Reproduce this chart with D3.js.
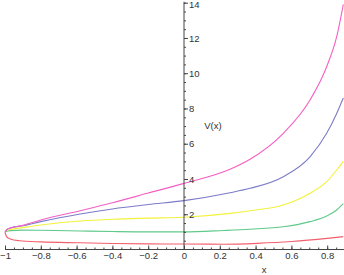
<!DOCTYPE html>
<html>
<head>
<meta charset="utf-8">
<script src="https://cdn.jsdelivr.net/npm/d3@7"></script>
<style>
  body { margin: 0; background: #fff; }
  svg { display: block; font-family: "Liberation Sans", Arial, sans-serif; }
</style>
</head>
<body>
<script>
// x positions of each read-off point, and V(x) per curve
const xsMagenta = [-1, -0.99, -0.97, -0.9, -0.8, -0.58, -0.4, -0.2, 0, 0.257, 0.369, 0.555, 0.704, 0.797, 0.853, 0.89];
const vMagenta  = [0.98, 1.12, 1.22, 1.37, 1.67, 2.2, 2.65, 3.2, 3.75, 4.55, 5.12, 6.59, 8.48, 10.37, 12.07, 13.9];

const xsBlue = [-1, -0.99, -0.97, -0.9, -0.8, -0.58, -0.4, -0.2, 0, 0.257, 0.369, 0.555, 0.704, 0.797, 0.853, 0.89];
const vBlue  = [0.98, 1.12, 1.22, 1.35, 1.58, 2.01, 2.3, 2.55, 2.77, 3.22, 3.47, 4.13, 5.26, 6.59, 7.72, 8.6];

const xsYellow = [-1, -0.99, -0.97, -0.9, -0.8, -0.58, -0.4, -0.2, 0, 0.257, 0.369, 0.555, 0.704, 0.797, 0.853, 0.89];
const vYellow  = [0.98, 1.07, 1.13, 1.24, 1.39, 1.62, 1.72, 1.78, 1.83, 2.05, 2.2, 2.52, 3.19, 3.85, 4.51, 5.0];

const xsGreen = [-1, -0.99, -0.97, -0.9, -0.8, -0.58, -0.4, -0.2, 0, 0.223, 0.369, 0.555, 0.704, 0.797, 0.853, 0.89];
const vGreen  = [0.98, 1.03, 1.07, 1.1, 1.09, 1.05, 1.02, 1.0, 1.0, 1.08, 1.15, 1.29, 1.58, 1.9, 2.24, 2.6];

const xsRed = [-1, -0.995, -0.99, -0.97, -0.92, -0.8, -0.58, -0.4, -0.2, 0, 0.22, 0.41, 0.6, 0.8, 0.89];
const vRed  = [0.98, 0.82, 0.72, 0.6, 0.5, 0.43, 0.38, 0.34, 0.32, 0.31, 0.3, 0.35, 0.45, 0.63, 0.73];

const xMajor = [-1, -0.8, -0.6, -0.4, -0.2, 0, 0.2, 0.4, 0.6, 0.8];
const yMajor = [2, 4, 6, 8, 10, 12, 14];

const curves = [
  {xs: xsRed, v: vRed, color: "#f2606e"},
  {xs: xsGreen, v: vGreen, color: "#5fc98a"},
  {xs: xsYellow, v: vYellow, color: "#f2f23c"},
  {xs: xsBlue, v: vBlue, color: "#7c7cc8"},
  {xs: xsMagenta, v: vMagenta, color: "#f460c4"}
];

const width = 344, height = 275;

const x = d3.scaleLinear().domain([-1, 0]).range([5, 184]);
const y = d3.scaleLinear().domain([0, 14]).range([249.5, 2.7]);

const svg = d3.select("body").append("svg")
    .attr("width", width)
    .attr("height", height);

const line = d3.line()
    .x(d => x(d[0]))
    .y(d => y(d[1]))
    .curve(d3.curveMonotoneX);

curves.forEach(c => {
  svg.append("path")
      .datum(c.xs.map((xv, i) => [xv, c.v[i]]))
      .attr("fill", "none")
      .attr("stroke", c.color)
      .attr("stroke-width", 1.1)
      .attr("d", line);
});

const axisColor = "#444";

// x axis: minor ticks, then major with labels
const xMinor = d3.range(-1, 0.9001, 0.05).map(v => +v.toFixed(2));
svg.append("g")
    .attr("transform", `translate(0,${y(0)})`)
    .call(d3.axisBottom(x).tickValues(xMinor).tickSize(-2).tickFormat(""))
    .call(g => g.select(".domain").remove());

const gx = svg.append("g")
    .attr("transform", `translate(0,${y(0)})`)
    .call(d3.axisBottom(x).tickValues(xMajor).tickSizeInner(-4).tickSizeOuter(0).tickPadding(3)
      .tickFormat(d => d3.format("")(d).replace("-", "\u2212")));
gx.select(".domain").attr("d", `M${x(-1)},0H${width}`);

// y axis at x = 0
const yMinor = d3.range(0.5, 14.01, 0.5);
svg.append("g")
    .attr("transform", `translate(${x(0)},0)`)
    .call(d3.axisRight(y).tickValues(yMinor).tickSize(2).tickFormat(""))
    .call(g => g.select(".domain").remove());

const gy = svg.append("g")
    .attr("transform", `translate(${x(0)},0)`)
    .call(d3.axisRight(y).tickValues(yMajor).tickSizeInner(4).tickSizeOuter(0).tickPadding(1));
gy.select(".domain").attr("d", `M0,${y(0)}V${y(14.05)}`);
// keep the top label inside the picture
gy.selectAll(".tick text").filter(d => d === 14).attr("y", 1.6);

svg.selectAll(".tick line").attr("stroke", axisColor);
svg.selectAll(".domain").attr("stroke", axisColor);
svg.selectAll(".tick text").attr("fill", "#333").attr("font-size", 9.5);

svg.append("text")
    .attr("x", 264).attr("y", 273)
    .attr("text-anchor", "middle")
    .attr("font-size", 9.5).attr("fill", "#333")
    .text("x");

svg.append("text")
    .attr("x", 213).attr("y", 129)
    .attr("text-anchor", "middle")
    .attr("font-size", 9.5).attr("fill", "#333")
    .text("V(x)");
</script>
</body>
</html>
